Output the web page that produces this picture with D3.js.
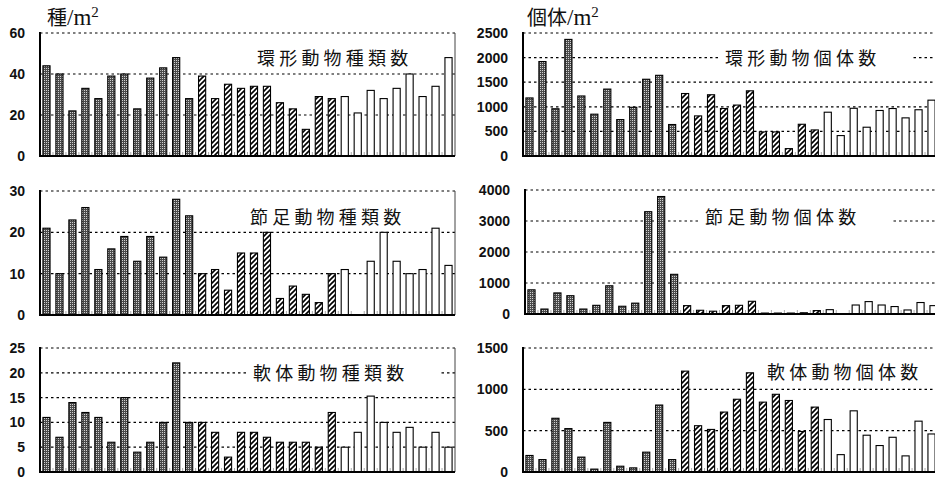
<!DOCTYPE html>
<html>
<head>
<meta charset="utf-8">
<script src="https://cdn.jsdelivr.net/npm/d3@7"></script>
<style>
  html, body { margin: 0; padding: 0; background: #fff; }
  svg { display: block; }
</style>
</head>
<body>
<div id="chart"></div>
<script>
// 地点ごとの区分 (濃色 / 斜線 / 白)
const siteGroups = [
  'dark','dark','dark','dark','dark','dark','dark','dark','dark','dark','dark','dark',
  'hatch','hatch','hatch','hatch','hatch','hatch','hatch','hatch','hatch','hatch','hatch',
  'white','white','white','white','white','white','white','white','white'
];

const annelidSpecies = [44,40,22,33,28,39,40,23,38,43,48,28, 39,28,35,33,34,34,26,23,13,29,28, 29,21,32,28,33,40,29,34,48];
const annelidCount = [1180,1920,960,2370,1220,850,1360,740,990,1560,1640,640, 1270,815,1245,965,1035,1325,490,490,150,645,530, 890,415,970,585,925,965,775,940,1135];
const arthropodSpecies = [21,10,23,26,11,16,19,13,19,14,28,24, 10,11,6,15,15,20,4,7,5,3,10, 11,0,13,20,13,10,11,21,12];
const arthropodCount = [780,160,680,590,160,280,910,250,350,3300,3790,1280, 270,120,90,270,280,410,30,30,30,40,110, 140,0,290,400,290,240,130,370,270];
const molluscSpecies = [11,7,14,12,11,6,15,4,6,10,22,10, 10,8,3,8,8,7,6,6,6,5,12, 5,8,15.3,10,8,9,5,8,5];
const molluscCount = [200,150,650,525,180,35,600,70,50,240,810,150, 1220,560,515,725,880,1200,845,940,865,490,785, 635,210,740,445,320,420,195,615,460];

const speciesTicks1 = [0,20,40,60];
const countTicks1 = [0,500,1000,1500,2000,2500];
const speciesTicks2 = [0,10,20,30];
const countTicks2 = [0,1000,2000,3000,4000];
const speciesTicks3 = [0,5,10,15,20,25];
const countTicks3 = [0,500,1000,1500];

const width = 935, height = 480;

const svg = d3.select('#chart').append('svg')
  .attr('width', width)
  .attr('height', height);

const defs = svg.append('defs');

// 濃色の網点
const dots = defs.append('pattern')
  .attr('id', 'dots')
  .attr('patternUnits', 'userSpaceOnUse')
  .attr('width', 2).attr('height', 2);
dots.append('rect').attr('width', 2).attr('height', 2).attr('fill', '#4a4a4a');
dots.append('rect').attr('x', 0).attr('y', 0).attr('width', 1).attr('height', 1).attr('fill', '#d2d2d2');

// 斜線
const hatch = defs.append('pattern')
  .attr('id', 'hatch')
  .attr('patternUnits', 'userSpaceOnUse')
  .attr('width', 5).attr('height', 5);
hatch.append('rect').attr('width', 5).attr('height', 5).attr('fill', '#fff');
hatch.append('path')
  .attr('d', 'M-1,1 l2,-2 M0,5 l5,-5 M4,6 l2,-2')
  .attr('stroke', '#000')
  .attr('stroke-width', 1.6);

const fillMap = { dark: 'url(#dots)', hatch: 'url(#hatch)', white: '#fff' };

const panels = [
  { values: annelidSpecies, ticks: speciesTicks1, x0: 40, x1: 455, y0: 33, y1: 156,
    title: '環形動物種類数', tx: 257, ty: 57, bg: false },
  { values: annelidCount, ticks: countTicks1, x0: 523, x1: 938, y0: 33, y1: 156,
    title: '環形動物個体数', tx: 725, ty: 57, bg: true },
  { values: arthropodSpecies, ticks: speciesTicks2, x0: 40, x1: 455, y0: 191, y1: 315,
    title: '節足動物種類数', tx: 250, ty: 216, bg: false },
  { values: arthropodCount, ticks: countTicks2, x0: 525, x1: 940, y0: 190, y1: 314,
    title: '節足動物個体数', tx: 705, ty: 216, bg: true },
  { values: molluscSpecies, ticks: speciesTicks3, x0: 40, x1: 455, y0: 348, y1: 472,
    title: '軟体動物種類数', tx: 253, ty: 372, bg: true },
  { values: molluscCount, ticks: countTicks3, x0: 523, x1: 938, y0: 348, y1: 472,
    title: '軟体動物個体数', tx: 767, ty: 371, bg: false }
];

panels.forEach(p => {
  const g = svg.append('g');

  const x = d3.scaleBand()
    .domain(d3.range(p.values.length))
    .range([p.x0, p.x1])
    .paddingInner(0.45)
    .paddingOuter(0.225);

  const y = d3.scaleLinear()
    .domain([0, d3.max(p.ticks)])
    .range([p.y1, p.y0]);

  // 目盛線
  g.selectAll('.grid')
    .data(p.ticks.filter(t => t > 0))
    .join('line')
    .attr('x1', p.x0).attr('x2', p.x1)
    .attr('y1', d => y(d)).attr('y2', d => y(d))
    .attr('stroke', '#000')
    .attr('stroke-width', 1.2)
    .attr('stroke-dasharray', '2.5,3');

  // 右枠
  g.append('line')
    .attr('x1', p.x1).attr('x2', p.x1)
    .attr('y1', p.y0).attr('y2', p.y1)
    .attr('stroke', '#444')
    .attr('stroke-width', 1);

  // 下の小さい目盛
  g.selectAll('.minor')
    .data(d3.range(1, p.values.length))
    .join('line')
    .attr('x1', d => x(d) - x.step() * 0.225)
    .attr('x2', d => x(d) - x.step() * 0.225)
    .attr('y1', p.y1 - 4).attr('y2', p.y1)
    .attr('stroke', '#aaa')
    .attr('stroke-width', 1);

  // タイトル
  const title = g.append('text')
    .attr('x', p.tx)
    .attr('y', p.ty)
    .attr('dominant-baseline', 'central')
    .attr('font-family', '"Noto Sans CJK JP", sans-serif')
    .attr('font-size', 18)
    .attr('letter-spacing', 4.2)
    .attr('fill', '#111')
    .text(p.title);

  if (p.bg) {
    const bb = title.node().getBBox();
    g.insert('rect', 'text')
      .attr('x', bb.x - 4)
      .attr('y', bb.y)
      .attr('width', bb.width + 36)
      .attr('height', bb.height)
      .attr('fill', '#fff');
  }

  // 棒
  g.selectAll('.bar')
    .data(p.values)
    .join('rect')
    .attr('x', (d, i) => x(i))
    .attr('y', d => y(d))
    .attr('width', x.bandwidth())
    .attr('height', d => p.y1 - y(d))
    .attr('fill', (d, i) => fillMap[siteGroups[i]])
    .attr('stroke', '#000')
    .attr('stroke-width', 1.1);

  // 軸
  const axis = g.append('g')
    .attr('transform', `translate(${p.x0},0)`)
    .call(d3.axisLeft(y).tickValues(p.ticks).tickFormat(d3.format('d')).tickSize(0).tickPadding(15));
  axis.select('.domain').remove();
  axis.selectAll('text')
    .attr('font-family', '"Liberation Sans", Arial, sans-serif')
    .attr('font-size', 14)
    .attr('font-weight', 'bold')
    .attr('fill', '#111');

  // 左軸と底線
  g.append('line')
    .attr('x1', p.x0).attr('x2', p.x0)
    .attr('y1', p.y0 - 1).attr('y2', p.y1 + 1)
    .attr('stroke', '#000')
    .attr('stroke-width', 2);
  g.append('line')
    .attr('x1', p.x0).attr('x2', p.x1)
    .attr('y1', p.y1).attr('y2', p.y1)
    .attr('stroke', '#000')
    .attr('stroke-width', 1.8);
});

// 単位
function unitLabel(x, yPos, kanji) {
  const t = svg.append('text')
    .attr('x', x).attr('y', yPos)
    .attr('font-size', 20)
    .attr('fill', '#111');
  t.append('tspan')
    .attr('font-family', '"Noto Sans CJK JP", sans-serif')
    .text(kanji);
  t.append('tspan')
    .attr('font-family', '"Liberation Serif", serif')
    .attr('font-size', 23)
    .text('/m');
  t.append('tspan')
    .attr('font-family', '"Liberation Serif", serif')
    .attr('font-size', 15)
    .attr('dy', -8)
    .text('2');
}
unitLabel(47, 25, '種');
unitLabel(527, 25, '個体');
</script>
</body>
</html>
